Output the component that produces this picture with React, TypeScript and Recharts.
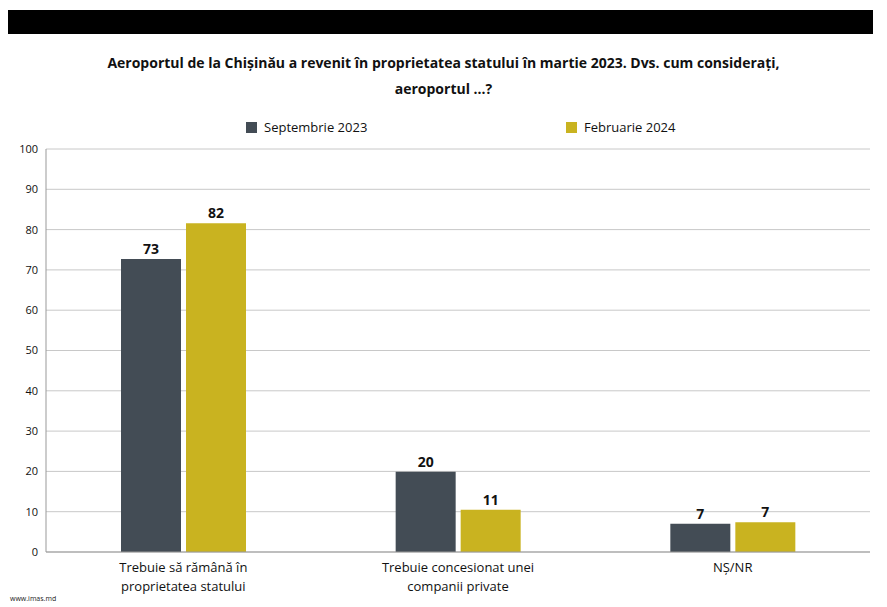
import React from 'react';
import { BarChart, Bar, XAxis, YAxis, CartesianGrid, LabelList } from 'recharts';

const categories = [
  ['Trebuie să rămână în', 'proprietatea statului'],
  ['Trebuie concesionat unei', 'companii private'],
  ['NȘ/NR'],
];
const sep2023 = [72.7, 19.9, 7];
const feb2024 = [81.6, 10.5, 7.4];
const sepLabels = ['73', '20', '7'];
const febLabels = ['82', '11', '7'];
const yTicks = [0, 10, 20, 30, 40, 50, 60, 70, 80, 90, 100];

const DARK = '#434c55';
const GOLD = '#c9b320';
const FONT = 'Open Sans, Liberation Sans, sans-serif';

const data = categories.map((c, i) => ({
  name: i,
  sep: sep2023[i],
  feb: feb2024[i],
  sepL: sepLabels[i],
  febL: febLabels[i],
}));

const CatTick = ({ x, y, payload }: any) => {
  const lines = categories[payload.value] || [];
  return (
    <text x={x} y={y} textAnchor="middle" fontSize={13} fill="#111" fontFamily={FONT}>
      {lines.map((l, i) => (
        <tspan key={i} x={x} dy={i === 0 ? 12 : 19}>{l}</tspan>
      ))}
    </text>
  );
};

export default function App() {
  return (
    <div style={{ position: 'absolute', left: 0, top: 0, width: 887, height: 607, background: '#fff', fontFamily: FONT }}>
      <div style={{ position: 'absolute', left: 8, top: 10, width: 865, height: 24, background: '#000' }} />
      <div style={{ position: 'absolute', left: 0, top: 50, width: 887, textAlign: 'center', fontWeight: 700, fontSize: 14, lineHeight: '26px', color: '#111' }}>
        Aeroportul de la Chișinău a revenit în proprietatea statului în martie 2023. Dvs. cum considerați,<br />aeroportul ...?
      </div>
      <div style={{ position: 'absolute', left: 246, top: 118, display: 'flex', alignItems: 'center', fontSize: 13, color: '#111' }}>
        <span style={{ width: 11, height: 11, background: DARK, marginRight: 7 }} />Septembrie 2023
      </div>
      <div style={{ position: 'absolute', left: 566, top: 118, display: 'flex', alignItems: 'center', fontSize: 13, color: '#111' }}>
        <span style={{ width: 11, height: 11, background: GOLD, marginRight: 7 }} />Februarie 2024
      </div>
      <div style={{ position: 'absolute', left: 10, top: 594, fontSize: 7, color: '#222' }}>www.imas.md</div>
      <div style={{ position: 'absolute', left: 0, top: 0 }}>
        <BarChart width={887} height={607} data={data} margin={{ top: 149, right: 17, bottom: 10, left: 11 }}
          barCategoryGap="27%" barGap={5}>
          <CartesianGrid vertical={false} stroke="#c8c8c8" />
          <XAxis dataKey="name" tick={<CatTick />} tickLine={false} axisLine={{ stroke: '#999' }} height={45} interval={0} />
          <YAxis domain={[0, 100]} ticks={yTicks} width={35} tickLine={false} axisLine={{ stroke: '#999' }}
            tick={{ fontSize: 11, fill: '#111', fontFamily: FONT }} />
          <Bar dataKey="sep" fill={DARK} barSize={60} isAnimationActive={false}>
            <LabelList dataKey="sepL" position="top" fontSize={14} fontWeight={700} fill="#111" fontFamily={FONT} />
          </Bar>
          <Bar dataKey="feb" fill={GOLD} barSize={60} isAnimationActive={false}>
            <LabelList dataKey="febL" position="top" fontSize={14} fontWeight={700} fill="#111" fontFamily={FONT} />
          </Bar>
        </BarChart>
      </div>
    </div>
  );
}
